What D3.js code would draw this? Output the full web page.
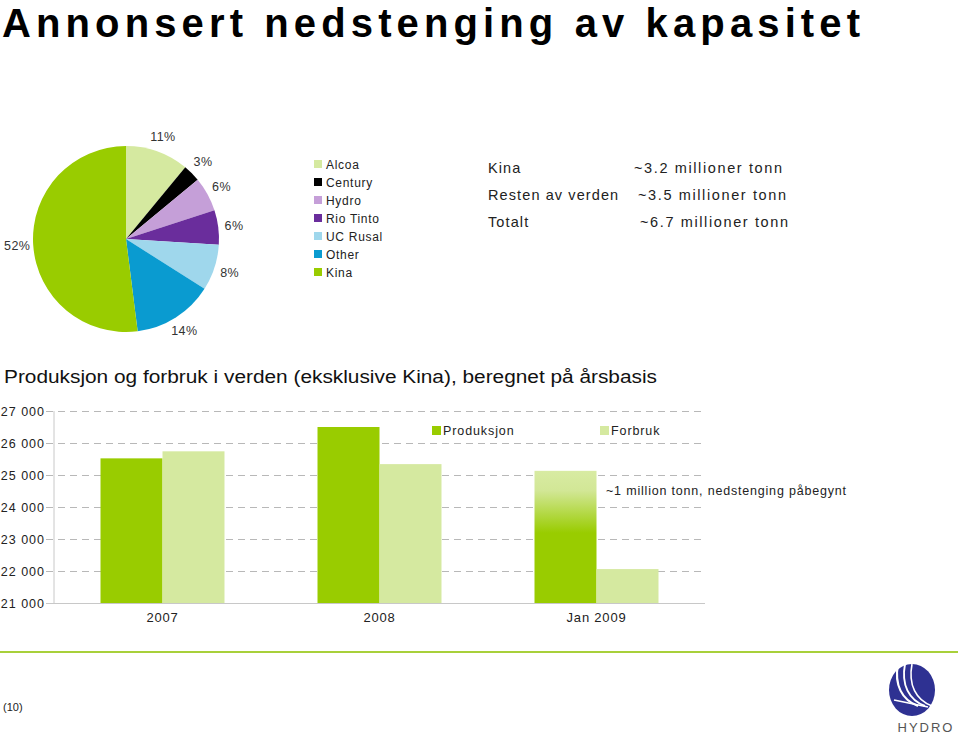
<!DOCTYPE html>
<html><head><meta charset="utf-8">
<script src="https://cdn.jsdelivr.net/npm/d3@7"></script>
<style>body{margin:0;background:#fff;} svg{display:block;font-family:"Liberation Sans",Arial,sans-serif;}</style>
</head><body>
<svg id="c" width="960" height="735"></svg>
<script>
// ---- data ----
const pieCompanies = ["Alcoa","Century","Hydro","Rio Tinto","UC Rusal","Other","Kina"];
const pieShares = [11,3,6,6,8,14,52];
const pieColors = ["#d5e9a0","#000000","#c59fd8","#6a2d9c","#9fd7ec","#0a9bd0","#99cc00"];
const capRegions = ["Kina","Resten av verden","Totalt"];
const capValues = ["~3.2 millioner tonn","~3.5 millioner tonn","~6.7 millioner tonn"];
const barCategories = ["2007","2008","Jan 2009"];
const barSeries = ["Produksjon","Forbruk"];
const produksjon = [25520, 26500, 25130];
const forbruk = [25740, 25340, 22060];
const yTicks = [21000,22000,23000,24000,25000,26000,27000];
const seriesColors = ["#99cc00","#d5e9a0"];

const svg = d3.select("#c");

// title
svg.append("text").attr("x",2).attr("y",37).attr("font-size",40).attr("font-weight","bold")
  .attr("fill","#000").attr("textLength",858).attr("lengthAdjust","spacing")
  .text("Annonsert nedstenging av kapasitet");

// ---- pie ----
const cx=126, cy=239, r=93;
const pie = d3.pie().sort(null).value(d=>d)(pieShares);
const arc = d3.arc().innerRadius(0).outerRadius(r);
const labelArc = d3.arc().innerRadius(109).outerRadius(109);
const gp = svg.append("g").attr("transform",`translate(${cx},${cy})`);
gp.selectAll("path").data(pie).join("path").attr("d",arc).attr("fill",(d,i)=>pieColors[i]);
gp.selectAll("text").data(pie).join("text")
  .attr("transform",d=>`translate(${labelArc.centroid(d)})`)
  .attr("text-anchor","middle").attr("dy","0.35em").attr("font-size",12.5).attr("fill","#333")
  .attr("letter-spacing",0.5)
  .text(d=>d.data+"%");

// pie legend
const gl = svg.append("g");
pieCompanies.forEach((c,i)=>{
  const y = 169 + i*18;
  gl.append("rect").attr("x",314).attr("y",y-9).attr("width",8).attr("height",8).attr("fill",pieColors[i]);
  gl.append("text").attr("x",326).attr("y",y).attr("font-size",12).attr("letter-spacing",0.7).attr("fill","#222").text(c);
});

// capacity text block
const capX2 = [634,638,640];
capRegions.forEach((c,i)=>{
  const y = 173 + i*27;
  svg.append("text").attr("x",488).attr("y",y).attr("font-size",14.5).attr("letter-spacing",1.1).attr("fill","#222").text(c);
  svg.append("text").attr("x",capX2[i]).attr("y",y).attr("font-size",14.5).attr("fill","#222")
    .attr("textLength",148).attr("lengthAdjust","spacing").text(capValues[i]);
});

// subtitle
svg.append("text").attr("x",4).attr("y",383).attr("font-size",17.5).attr("fill","#111")
  .attr("textLength",653).attr("lengthAdjust","spacingAndGlyphs")
  .text("Produksjon og forbruk i verden (eksklusive Kina), beregnet på årsbasis");

// ---- bar chart ----
const x0=54, x1=705, yTop=411, yBot=603;
const y = d3.scaleLinear().domain([21000,27000]).range([yBot,yTop]);
const xb = d3.scaleBand().domain(barCategories).range([x0,x1]).paddingInner(0.4286).paddingOuter(0.2143);
const xs = d3.scaleBand().domain(barSeries).range([0,xb.bandwidth()]);

const defs = svg.append("defs");
const grad = defs.append("linearGradient").attr("id","fade").attr("x1",0).attr("y1",0).attr("x2",0).attr("y2",1);
grad.append("stop").attr("offset","0%").attr("stop-color","#d8eba3");
grad.append("stop").attr("offset","15%").attr("stop-color","#d2e796");
grad.append("stop").attr("offset","47%").attr("stop-color","#99cc00");
grad.append("stop").attr("offset","100%").attr("stop-color","#99cc00");

// gridlines
const yAxis = d3.axisLeft(y).tickValues(yTicks).tickSize(-(x1-x0)).tickFormat(d=>d3.format(",")(d).replace(",", " "));
const ga = svg.append("g").attr("transform",`translate(${x0},0)`).call(yAxis);
ga.select(".domain").remove();
ga.selectAll(".tick line").attr("stroke","#b8b8b8").attr("stroke-dasharray","7,5").attr("x1",-8);
ga.selectAll(".tick").filter(d=>d===21000).select("line").attr("stroke","#c8c8c8").attr("stroke-dasharray",null);
ga.selectAll(".tick text").attr("x",-9).attr("font-size",12.5).attr("letter-spacing",1).attr("fill","#222")
  .attr("font-family","Liberation Sans, Arial, sans-serif");
svg.append("line").attr("x1",x0).attr("x2",x0).attr("y1",yTop).attr("y2",yBot).attr("stroke","#c8c8c8");

const rows = barCategories.map((c,i)=>({cat:c, vals:[produksjon[i], forbruk[i]]}));
const gb = svg.append("g");
rows.forEach((row,ci)=>{
  row.vals.forEach((v,si)=>{
    const fill = (ci===2 && si===0) ? "url(#fade)" : seriesColors[si];
    gb.append("rect").attr("x",xb(row.cat)+xs(barSeries[si])).attr("y",y(v))
      .attr("width",xs.bandwidth()).attr("height",yBot-y(v)).attr("fill",fill);
  });
});
// category labels
svg.append("g").selectAll("text").data(barCategories).join("text")
  .attr("x",d=>xb(d)+xb.bandwidth()/2).attr("y",622).attr("text-anchor","middle")
  .attr("font-size",13).attr("letter-spacing",0.8).attr("fill","#222").text(d=>d);

// bar legend
const legX=[432,600];
barSeries.forEach((s,i)=>{
  svg.append("rect").attr("x",legX[i]).attr("y",426).attr("width",9).attr("height",9).attr("fill",seriesColors[i]);
  svg.append("text").attr("x",legX[i]+11).attr("y",435).attr("font-size",12.5).attr("letter-spacing",0.9).attr("fill","#222").text(s);
});

// annotation
svg.append("text").attr("x",606).attr("y",495).attr("font-size",12.5).attr("fill","#222")
  .attr("textLength",240).attr("lengthAdjust","spacing").text("~1 million tonn, nedstenging påbegynt");

// footer line
svg.append("line").attr("x1",0).attr("x2",958).attr("y1",652).attr("y2",652).attr("stroke","#a8d03a").attr("stroke-width",2);
svg.append("text").attr("x",3).attr("y",711).attr("font-size",11).attr("fill","#222").text("(10)");

// Hydro logo
const lg = svg.append("g").attr("transform","translate(912,690)");
lg.append("ellipse").attr("rx",23).attr("ry",26).attr("fill","#2e3192");
[[-12,0],[-5,0],[2,0]].forEach(([dx],k)=>{
  lg.append("path").attr("d",`M${dx-2},-26 C${dx-6},-5 ${dx+2},10 ${dx+18},16`)
    .attr("fill","none").attr("stroke","#fff").attr("stroke-width",2.2-k*0.3);
});
lg.append("path").attr("d","M-18,10 L16,17").attr("stroke","#fff").attr("stroke-width",1.6);
svg.append("text").attr("x",926).attr("y",732).attr("text-anchor","middle").attr("font-size",13)
  .attr("letter-spacing",2).attr("fill","#555").attr("font-family","Liberation Sans Narrow, Liberation Sans, sans-serif").text("HYDRO");
</script>
</body></html>
